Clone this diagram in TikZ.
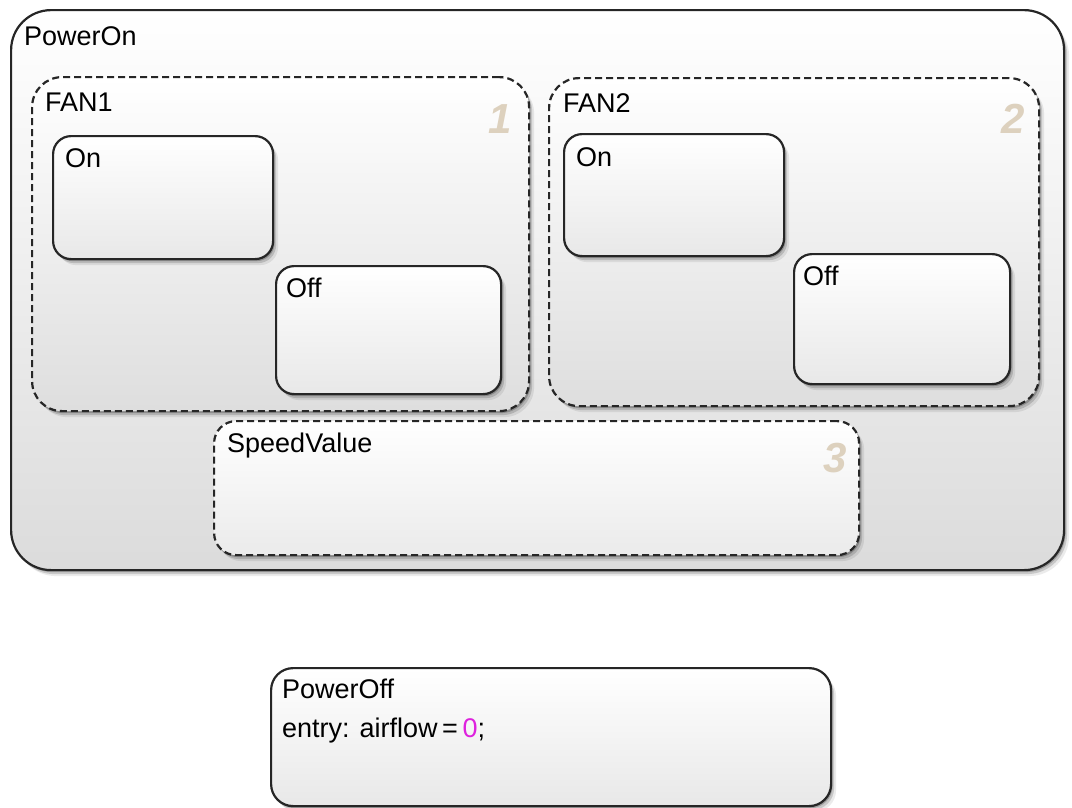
\documentclass[tikz,border=0pt]{standalone}
\usepackage{fontspec}
\setmainfont{Liberation Sans}
\usepackage{xcolor}
\usepackage{tikz}
\usetikzlibrary{shadows,positioning}

\definecolor{chartline}{HTML}{262626}
\definecolor{ordertan}{HTML}{DDD1BE}
\definecolor{valuemagenta}{HTML}{DE22DE}

\tikzset{
    softshadow/.style={drop shadow={shadow xshift=1.5pt, shadow yshift=-2pt, opacity=.22, fill=black},
                       drop shadow={shadow xshift=3pt, shadow yshift=-4pt, opacity=.15, fill=black},
                       drop shadow={shadow xshift=5pt, shadow yshift=-6pt, opacity=.08, fill=black}},
    chartbox/.style={rectangle, draw=chartline, line width=2.2, inner sep=0, anchor=north west, softshadow},
    superstate/.style={chartbox, rounded corners=40, top color=white, bottom color=black!14},
    parallelstate/.style={chartbox, dash pattern=on 7pt off 4pt, rounded corners=30, top color=white, bottom color=black!13},
    leafstate/.style={chartbox, rounded corners=18, top color=white, bottom color=black!9},
    statename/.style={anchor=base west, inner sep=0, font=\fontsize{27}{38}\selectfont},
    ordernum/.style={anchor=base east, inner sep=0, text=ordertan, font=\fontsize{42}{42}\selectfont\bfseries\itshape}
}

\begin{document}
\begin{tikzpicture}[x=1pt, y=-1pt]
    \useasboundingbox (0,0) rectangle (1072,807);

    % PowerOn
    \node [superstate, minimum width=1053, minimum height=560] (powerOn) at (10,9) {};
    \node [statename] (powerOnName) at (24,45) {PowerOn};

    % FAN1
    \node [parallelstate, minimum width=497, minimum height=334] (fanOne) at (31,76) {};
    \node [statename] (fanOneName) at (45,111) {FAN1};
    \node [ordernum] (fanOneOrder) at (512,133) {1};
    \node [leafstate, minimum width=220, minimum height=123] (fanOneOn) at (52,135) {};
    \node [statename] (fanOneOnName) at (65,167) {On};
    \node [leafstate, minimum width=225, minimum height=128] (fanOneOff) at (275,265) {};
    \node [statename] (fanOneOffName) at (286,297) {Off};

    % FAN2
    \node [parallelstate, minimum width=490, minimum height=328] (fanTwo) at (548,77) {};
    \node [statename] (fanTwoName) at (563,112) {FAN2};
    \node [ordernum] (fanTwoOrder) at (1025,133) {2};
    \node [leafstate, minimum width=220, minimum height=122] (fanTwoOn) at (563,133) {};
    \node [statename] (fanTwoOnName) at (576,166) {On};
    \node [leafstate, minimum width=216, minimum height=130] (fanTwoOff) at (793,253) {};
    \node [statename] (fanTwoOffName) at (803,285) {Off};

    % SpeedValue
    \node [parallelstate, rounded corners=22, bottom color=black!8, minimum width=645, minimum height=134] (speedValue) at (213,420) {};
    \node [statename] (speedValueName) at (227,452) {SpeedValue};
    \node [ordernum] (speedValueOrder) at (847,472) {3};

    % PowerOff
    \node [leafstate, rounded corners=22, minimum width=560, minimum height=138] (powerOff) at (270,667) {};
    \node [statename] (powerOffName) at (282,698) {PowerOff};
    \node [statename] (powerOffEntry) at (282,737) {entry: airflow\,=\,\textcolor{valuemagenta}{0};};
\end{tikzpicture}
\end{document}
